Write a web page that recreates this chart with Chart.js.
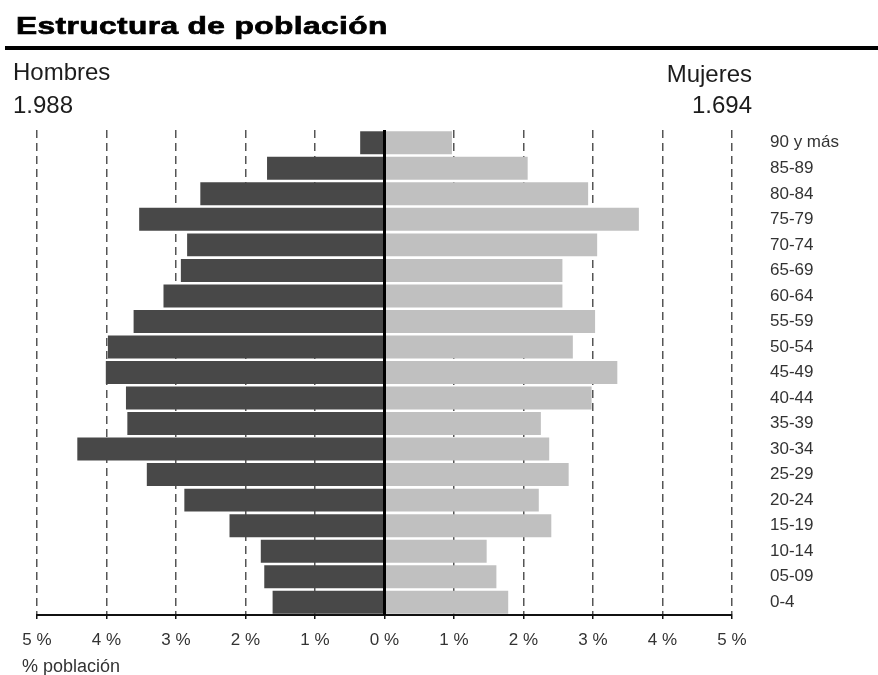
<!DOCTYPE html>
<html>
<head>
<meta charset="utf-8">
<script src="https://cdn.jsdelivr.net/npm/chart.js@4.4.0/dist/chart.umd.min.js"></script>
<style>
  body { margin: 0; background: #fff; font-family: "Liberation Sans", Arial, sans-serif; }
  #wrap { position: relative; width: 878px; height: 675px; overflow: hidden; }
  #chart { position: absolute; left: 0; top: 0; }
  .t { position: absolute; line-height: 1; white-space: nowrap; color: #1c1c1c; }
  #title { left: 16px; top: 14px; font-size: 24px; font-weight: bold; letter-spacing: 0.3px;
           color: #000; -webkit-text-stroke: 0.7px #000;
           transform: scaleX(1.32); transform-origin: left top; }
  #rule { position: absolute; left: 5px; right: 0; top: 46px; height: 4px; background: #000; }
</style>
</head>
<body>
<div id="wrap">
  <canvas id="chart" width="878" height="675"></canvas>
  <div class="t" id="title">Estructura de población</div>
  <div id="rule"></div>
  <div class="t" style="left:13px;top:60px;font-size:24px">Hombres</div>
  <div class="t" style="left:13px;top:93px;font-size:24px">1.988</div>
  <div class="t" style="right:126px;top:62px;font-size:24px">Mujeres</div>
  <div class="t" style="right:126px;top:93px;font-size:24px">1.694</div>
  <div class="t" style="left:22px;top:657px;font-size:18px;color:#333">% población</div>
</div>
<script>
// grupos de edad, de arriba a abajo
const ageGroups = ['90 y más', '85-89', '80-84', '75-79', '70-74', '65-69', '60-64', '55-59', '50-54',
                   '45-49', '40-44', '35-39', '30-34', '25-29', '20-24', '15-19', '10-14', '05-09', '0-4'];
// % de poblacion
const hombres = [0.35, 1.69, 2.65, 3.53, 2.84, 2.93, 3.18, 3.61, 3.98,
                 4.01, 3.72, 3.70, 4.42, 3.42, 2.88, 2.23, 1.78, 1.73, 1.61];
const mujeres = [0.97, 2.06, 2.93, 3.66, 3.06, 2.56, 2.56, 3.03, 2.71,
                 3.35, 2.98, 2.25, 2.37, 2.65, 2.22, 2.40, 1.47, 1.61, 1.78];
const xMin = -5, xMax = 5;

// linea negra en el 0
const zeroLine = {
    id: 'zeroLine',
    afterDatasetsDraw(chart) {
        const { ctx, chartArea, scales } = chart;
        const x = scales.x.getPixelForValue(0);
        ctx.save();
        ctx.strokeStyle = '#000';
        ctx.lineWidth = 3;
        ctx.beginPath();
        ctx.moveTo(x, chartArea.top);
        ctx.lineTo(x, chartArea.bottom);
        ctx.stroke();
        ctx.restore();
    }
};

new Chart(document.getElementById('chart'), {
    type: 'bar',
    data: {
        labels: ageGroups,
        datasets: [{
            label: 'Hombres',
            data: hombres.map(v => -v),
            backgroundColor: '#484848',
            borderWidth: 0,
            barPercentage: 0.9,
            categoryPercentage: 1
        }, {
            label: 'Mujeres',
            data: mujeres,
            backgroundColor: '#c0c0c0',
            borderWidth: 0,
            barPercentage: 0.9,
            categoryPercentage: 1
        }]
    },
    options: {
        indexAxis: 'y',
        responsive: false,
        animation: false,
        layout: { padding: { left: 37, top: 130, right: 0, bottom: 10 } },
        plugins: {
            legend: { display: false },
            tooltip: { enabled: false }
        },
        scales: {
            x: {
                stacked: true,
                min: xMin,
                max: xMax,
                afterFit: s => { s.height = 50; },
                ticks: {
                    stepSize: 1,
                    autoSkip: false,
                    maxRotation: 0,
                    padding: 11,
                    color: '#333',
                    font: { family: '"Liberation Sans", Arial, sans-serif', size: 17 },
                    callback: v => Math.abs(v) + ' %'
                },
                grid: {
                    color: c => (c.tick && c.tick.value === 0) ? 'rgba(0,0,0,0)' : '#555',
                    lineWidth: 1.5,
                    tickColor: '#111',
                    tickLength: 4
                },
                border: { display: true, color: '#111', width: 2, dash: [8, 5] }
            },
            y: {
                stacked: true,
                position: 'right',
                afterFit: s => { s.width = 146; },
                grid: { display: false, drawTicks: false },
                border: { display: false },
                ticks: {
                    padding: 38,
                    color: '#333',
                    font: { family: '"Liberation Sans", Arial, sans-serif', size: 17 }
                }
            }
        }
    },
    plugins: [zeroLine]
});
</script>
</body>
</html>
